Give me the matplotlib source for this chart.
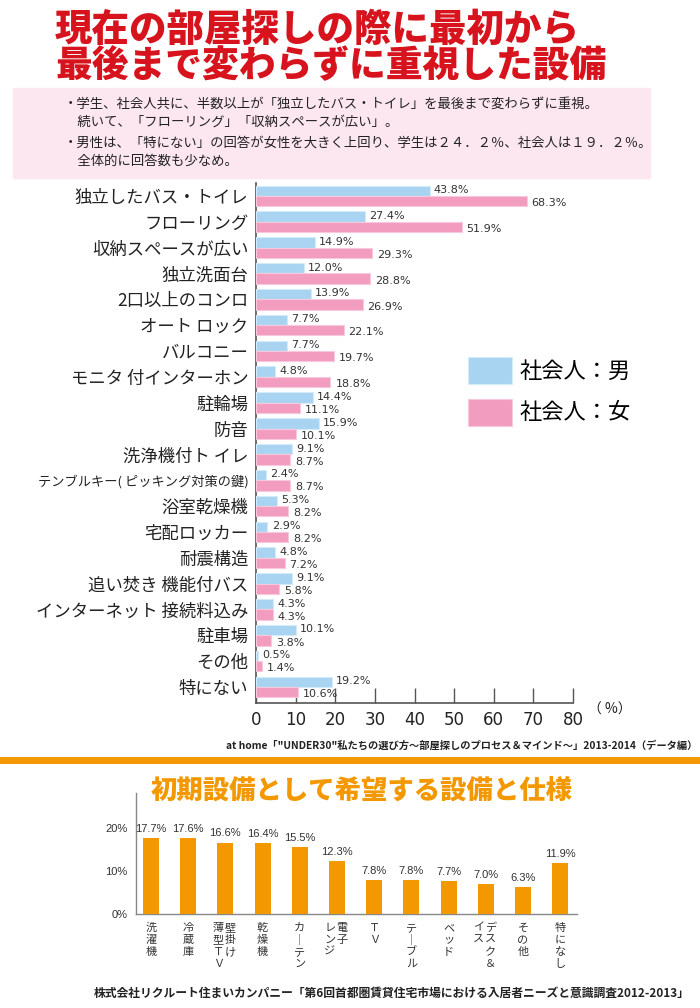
import numpy as np
import matplotlib
matplotlib.use('Agg')
import matplotlib.pyplot as plt
from matplotlib.patches import Rectangle
from matplotlib.lines import Line2D

plt.rcParams['font.family'] = ['Noto Sans CJK JP', 'DejaVu Sans']

# ── データ ──────────────────────────────────────────────
categories = ["独立したバス・トイレ", "フローリング", "収納スペースが広い", "独立洗面台",
              "2口以上のコンロ", "オート ロック", "バルコニー", "モニタ 付インターホン",
              "駐輪場", "防音", "洗浄機付ト イレ", "テンブルキー( ピッキング対策の鍵)",
              "浴室乾燥機", "宅配ロッカー", "耐震構造", "追い焚き 機能付バス",
              "インターネット 接続料込み", "駐車場", "その他", "特にない"]
male   = [43.8, 27.4, 14.9, 12.0, 13.9, 7.7, 7.7, 4.8, 14.4, 15.9,
          9.1, 2.4, 5.3, 2.9, 4.8, 9.1, 4.3, 10.1, 0.5, 19.2]
female = [68.3, 51.9, 29.3, 28.8, 26.9, 22.1, 19.7, 18.8, 11.1, 10.1,
          8.7, 8.7, 8.2, 8.2, 7.2, 5.8, 4.3, 3.8, 1.4, 10.6]
series_names = ["社会人：男", "社会人：女"]

# 下段: "|" で縦書きの列を区切る (右の列から)
equip_cats = ["洗濯機", "冷蔵庫", "壁掛け|薄型ＴＶ", "乾燥機", "カーテン", "電子|レンジ",
              "ＴＶ", "テーブル", "ベッド", "デスク＆|イス", "その他", "特になし"]
equip_vals = [17.7, 17.6, 16.6, 16.4, 15.5, 12.3, 7.8, 7.8, 7.7, 7.0, 6.3, 11.9]

title_lines = ["現在の部屋探しの際に最初から", "最後まで変わらずに重視した設備"]
notes = ["・学生、社会人共に、半数以上が「独立したバス・トイレ」を最後まで変わらずに重視。",
         "　続いて、「フローリング」「収納スペースが広い」。",
         "・男性は、「特にない」の回答が女性を大きく上回り、学生は２４．２％、社会人は１９．２％。",
         "　全体的に回答数も少なめ。"]
src1 = "at home「\"UNDER30\"私たちの選び方～部屋探しのプロセス＆マインド～」2013-2014（データ編）"
src2 = "株式会社リクルート住まいカンパニー「第6回首都圏賃貸住宅市場における入居者ニーズと意識調査2012-2013」"
equip_title = "初期設備として希望する設備と仕様"

BLUE, PINK = "#a8d4f2", "#f29cc0"
ORANGE = "#f39800"
RED = "#d7141e"
NARROW = ['Liberation Sans', 'DejaVu Sans']

W, H = 700, 1008
def fx(px): return px / W
def fy(py): return 1 - py / H

fig = plt.figure(figsize=(7, 10.08), dpi=100)

# ── タイトル・注記 ─────────────────────────────────────
fig.text(fx(55), fy(30), title_lines[0], ha='left', va='center',
         fontsize=27, fontweight='heavy', color=RED)
fig.text(fx(55), fy(66), title_lines[1], ha='left', va='center',
         fontsize=26.5, fontweight='heavy', color=RED)

fig.add_artist(Rectangle((fx(13), fy(178)), (650 - 13) / W, 90 / H,
                         transform=fig.transFigure, color="#fce6ef", zorder=0))
for txt, py in zip(notes, [104, 122, 143, 161]):
    fig.text(fx(64), fy(py), txt, ha='left', va='center', fontsize=9.6, color='#222')

# ── 上段: 横棒グラフ ───────────────────────────────────
ax = fig.add_axes([fx(256), fy(703), (573 - 256) / W, (703 - 183) / H])
y = np.arange(len(categories))
bh = 0.4
b1 = ax.barh(y - bh / 2, male, height=bh, color=BLUE, edgecolor="#d4ebfa", linewidth=0.8, zorder=3)
b2 = ax.barh(y + bh / 2, female, height=bh, color=PINK, edgecolor="#f8c8dc", linewidth=0.8, zorder=3)
ax.set_xlim(0, 80)
ax.set_ylim(19.62, -0.5)

for yi, v in zip(y, male):
    ax.annotate(f"{v:.1f}%", xy=(v, yi - bh / 2), xytext=(3, 0.5), textcoords='offset points',
                va='center', ha='left', fontsize=8, family='DejaVu Sans', color='#333')
for yi, v in zip(y, female):
    ax.annotate(f"{v:.1f}%", xy=(v, yi + bh / 2), xytext=(3.5, -1.5), textcoords='offset points',
                va='center', ha='left', fontsize=8, family='DejaVu Sans', color='#333')

ax.set_yticks(y)
ax.set_yticklabels(categories, fontsize=12.5, color='#222')
for lab in ax.get_yticklabels():
    if lab.get_text().startswith("テンブル"):
        lab.set_fontsize(9.5)
ax.tick_params(axis='y', length=0, pad=5.5)
ax.set_xticks(range(0, 81, 10))
ax.tick_params(axis='x', direction='in', length=10.5, width=1, color='#555',
               labelsize=12, pad=6, labelcolor='#222')
for lab in ax.get_xticklabels():
    lab.set_family('DejaVu Sans')
for s in ['top', 'right']:
    ax.spines[s].set_visible(False)
for s in ['left', 'bottom']:
    ax.spines[s].set_color('#555')
    ax.spines[s].set_linewidth(1.2)

fig.text(fx(588), fy(710), "（ %）", ha='left', va='center', fontsize=10, color='#222')

ax.legend([b1, b2], series_names, loc='upper left',
          bbox_to_anchor=(fx(468), fy(357)), bbox_transform=fig.transFigure,
          frameon=False, fontsize=16, handlelength=2.0, handleheight=1.5,
          handletextpad=0.3, labelspacing=0.65, borderpad=0, borderaxespad=0)

fig.text(fx(697), fy(745), src1, ha='right', va='center', fontsize=7.4,
         fontweight='bold', color='#222')
fig.add_artist(Line2D([fx(2), fx(697)], [fy(760), fy(760)], lw=5, color=ORANGE,
                      transform=fig.transFigure))

# ── 下段: 縦棒グラフ ───────────────────────────────────
fig.text(fx(362), fy(790), equip_title, ha='center', va='center', fontsize=19,
         fontweight='heavy', color=ORANGE)

ax2 = fig.add_axes([fx(136), fy(914), (577 - 136) / W, (914 - 793) / H])
x = np.arange(len(equip_vals))
ax2.bar(x, equip_vals, width=0.43, color=ORANGE, zorder=3)
ax2.set_xlim(-0.40, 11.45)
ax2.set_ylim(0, 28.1)
ax2.set_yticks([0, 10, 20])
ax2.set_yticklabels(["0%", "10%", "20%"], fontsize=8, color='#333', family=NARROW)
ax2.tick_params(axis='y', length=0, pad=6)
ax2.set_xticks([])
for s in ['top', 'right']:
    ax2.spines[s].set_visible(False)
for s in ['left', 'bottom']:
    ax2.spines[s].set_color('#888')
    ax2.spines[s].set_linewidth(1)

for xi, v in zip(x, equip_vals):
    ax2.annotate(f"{v:.1f}%", xy=(xi, v), xytext=(0, 3), textcoords='offset points',
                 ha='center', va='bottom', fontsize=8, color='#333', family=NARROW)

PX = 0.72  # px -> pt
for xi, name in zip(x, equip_cats):
    cols = name.split("|")
    if len(cols) == 1:
        offs = [0]
    else:
        offs = [5, -7]
    for col, dx in zip(cols, offs):
        for k, ch in enumerate(col):
            if ch == "ー":
                ch = "｜"
            ax2.annotate(ch, xy=(xi, 0), xycoords=ax2.get_xaxis_transform(),
                         xytext=(dx * PX, -(9 + k * 12) * PX), textcoords='offset points',
                         ha='center', va='top', fontsize=8, color='#333')

fig.text(fx(690), fy(993), src2, ha='right', va='center', fontsize=8.5,
         fontweight='bold', color='#222')

fig.savefig("out.png", dpi=100)
